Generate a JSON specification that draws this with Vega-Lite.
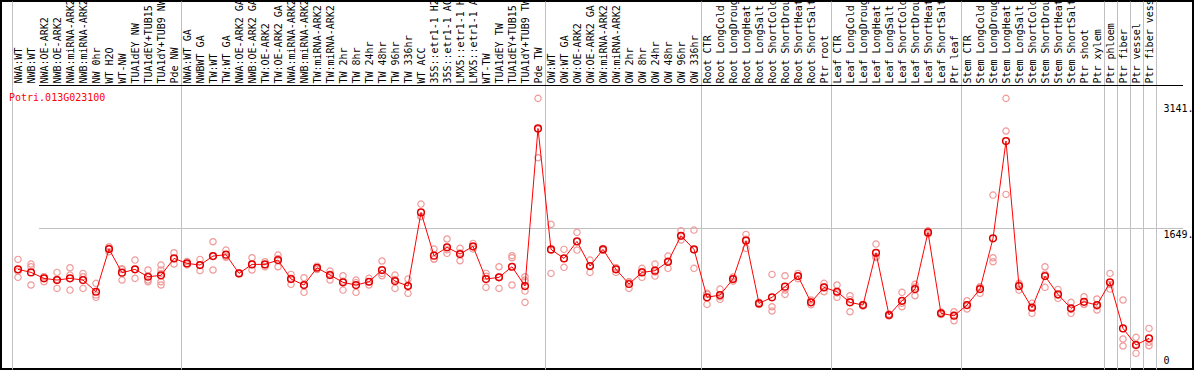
{
  "$schema": "https://vega.github.io/schema/vega-lite/v6.json",
  "width": 1192,
  "height": 368,
  "padding": {"left": 1, "top": 1, "right": 1, "bottom": 1},
  "autosize": {"type": "none"},
  "background": "white",
  "config": {"view": {"stroke": "black", "strokeWidth": 2}, "font": "DejaVu Sans Mono"},
  "title": {"text": "Potri.013G023100", "orient": "bottom", "anchor": "start", "frame": "group", "offset": -276, "dx": 8, "color": "#ff0000", "font": "DejaVu Sans Mono", "fontSize": 10, "fontWeight": "normal"},
  "datasets": {
    "means": [
      {"s": "NWA:WT", "v": 1162}, {"s": "NWB:WT", "v": 1126}, {"s": "NWA:OE-ARK2", "v": 1055}, {"s": "NWB:OE-ARK2", "v": 1035},
      {"s": "NWA:miRNA-ARK2", "v": 1055}, {"s": "NWB:miRNA-ARK2", "v": 1035}, {"s": "NW 0hr", "v": 896}, {"s": "WT H2O", "v": 1403},
      {"s": "WT-NW", "v": 1122}, {"s": "TUA1dEY NW", "v": 1162}, {"s": "TUA1dEY+TUB15 NW", "v": 1074}, {"s": "TUA1dY+TUB9 NW", "v": 1091},
      {"s": "Pde NW", "v": 1292}, {"s": "NWA:WT GA", "v": 1233}, {"s": "NWBWT GA", "v": 1213}, {"s": "TW:WT", "v": 1320},
      {"s": "TW:WT GA", "v": 1336}, {"s": "NWA:OE-ARK2 GA", "v": 1114}, {"s": "NWB:OE-ARK2 GA", "v": 1221}, {"s": "TW:OE-ARK2", "v": 1221},
      {"s": "TW:OE-ARK2 GA", "v": 1272}, {"s": "NWA:miRNA-ARK2 GA", "v": 1047}, {"s": "NWB:miRNA-ARK2 GA", "v": 976}, {"s": "TW:miRNA-ARK2", "v": 1181},
      {"s": "TW:miRNA-ARK2 GA", "v": 1094}, {"s": "TW 2hr", "v": 1008}, {"s": "TW 8hr", "v": 976}, {"s": "TW 24hr", "v": 1015},
      {"s": "TW 48hr", "v": 1154}, {"s": "TW 96hr", "v": 1023}, {"s": "TW 336hr", "v": 964}, {"s": "WT ACC", "v": 1838},
      {"s": "35S::etr1-1 H2O", "v": 1324}, {"s": "35S::etr1-1 ACC", "v": 1423}, {"s": "LMX5::etr1-1 H2O", "v": 1344}, {"s": "LMX5::etr1-1 ACC", "v": 1435},
      {"s": "WT-TW", "v": 1047}, {"s": "TUA1dEY TW", "v": 1067}, {"s": "TUA1dEY+TUB15 TW", "v": 1193}, {"s": "TUA1dY+TUB9 TW", "v": 964},
      {"s": "Pde TW", "v": 2835}, {"s": "OW:WT", "v": 1399}, {"s": "OW:WT GA", "v": 1292}, {"s": "OW:OE-ARK2", "v": 1494},
      {"s": "OW:OE-ARK2 GA", "v": 1201}, {"s": "OW:miRNA-ARK2", "v": 1399}, {"s": "OW:miRNA-ARK2 GA", "v": 1162}, {"s": "OW 2hr", "v": 988},
      {"s": "OW 8hr", "v": 1126}, {"s": "OW 24hr", "v": 1146}, {"s": "OW 48hr", "v": 1252}, {"s": "OW 96hr", "v": 1561},
      {"s": "OW 336hr", "v": 1399}, {"s": "Root CTR", "v": 830}, {"s": "Root LongCold", "v": 857}, {"s": "Root LongDrought", "v": 1047},
      {"s": "Root LongHeat", "v": 1502}, {"s": "Root LongSalt", "v": 758}, {"s": "Root ShortCold", "v": 830}, {"s": "Root ShortDrought", "v": 956},
      {"s": "Root ShortHeat", "v": 1082}, {"s": "Root ShortSalt", "v": 770}, {"s": "Ptr root", "v": 948}, {"s": "Leaf CTR", "v": 896},
      {"s": "Leaf LongCold", "v": 770}, {"s": "Leaf LongDrought", "v": 738}, {"s": "Leaf LongHeat", "v": 1359}, {"s": "Leaf LongSalt", "v": 620},
      {"s": "Leaf ShortCold", "v": 789}, {"s": "Leaf ShortDrought", "v": 928}, {"s": "Leaf ShortHeat", "v": 1601}, {"s": "Leaf ShortSalt", "v": 640},
      {"s": "Ptr leaf", "v": 611}, {"s": "Stem CTR", "v": 738}, {"s": "Stem LongCold", "v": 928}, {"s": "Stem LongDrought", "v": 1530},
      {"s": "Stem LongHeat", "v": 2685}, {"s": "Stem LongSalt", "v": 964}, {"s": "Stem ShortCold", "v": 706}, {"s": "Stem ShortDrought", "v": 1082},
      {"s": "Stem ShortHeat", "v": 865}, {"s": "Stem ShortSalt", "v": 699}, {"s": "Ptr shoot", "v": 777}, {"s": "Ptr xylem", "v": 738},
      {"s": "Ptr phloem", "v": 1008}, {"s": "Ptr fiber", "v": 461}, {"s": "Ptr vessel", "v": 264}, {"s": "Ptr fiber vessel", "v": 343}
    ],
    "reps": [
      {"s": "NWA:WT", "v": 1280}, {"s": "NWA:WT", "v": 1140}, {"s": "NWA:WT", "v": 1067},
      {"s": "NWB:WT", "v": 1225}, {"s": "NWB:WT", "v": 1193}, {"s": "NWB:WT", "v": 976},
      {"s": "NWA:OE-ARK2", "v": 1074}, {"s": "NWA:OE-ARK2", "v": 1075}, {"s": "NWA:OE-ARK2", "v": 1015},
      {"s": "NWB:OE-ARK2", "v": 1126}, {"s": "NWB:OE-ARK2", "v": 1043}, {"s": "NWB:OE-ARK2", "v": 936},
      {"s": "NWA:miRNA-ARK2", "v": 1181}, {"s": "NWA:miRNA-ARK2", "v": 1094}, {"s": "NWA:miRNA-ARK2", "v": 916},
      {"s": "NWB:miRNA-ARK2", "v": 1114}, {"s": "NWB:miRNA-ARK2", "v": 1074}, {"s": "NWB:miRNA-ARK2", "v": 936},
      {"s": "NW 0hr", "v": 996}, {"s": "NW 0hr", "v": 857}, {"s": "NW 0hr", "v": 830},
      {"s": "WT H2O", "v": 1430}, {"s": "WT H2O", "v": 1411}, {"s": "WT H2O", "v": 1371},
      {"s": "WT-NW", "v": 1160}, {"s": "WT-NW", "v": 1170}, {"s": "WT-NW", "v": 1035},
      {"s": "TUA1dEY NW", "v": 1272}, {"s": "TUA1dEY NW", "v": 1162}, {"s": "TUA1dEY NW", "v": 1055},
      {"s": "TUA1dEY+TUB15 NW", "v": 1154}, {"s": "TUA1dEY+TUB15 NW", "v": 1035}, {"s": "TUA1dEY+TUB15 NW", "v": 1015},
      {"s": "TUA1dY+TUB9 NW", "v": 1213}, {"s": "TUA1dY+TUB9 NW", "v": 1154}, {"s": "TUA1dY+TUB9 NW", "v": 1114}, {"s": "TUA1dY+TUB9 NW", "v": 1015}, {"s": "TUA1dY+TUB9 NW", "v": 976},
      {"s": "Pde NW", "v": 1359}, {"s": "Pde NW", "v": 1292}, {"s": "Pde NW", "v": 1225},
      {"s": "NWA:WT GA", "v": 1255}, {"s": "NWA:WT GA", "v": 1215}, {"s": "NWA:WT GA", "v": 1230},
      {"s": "NWBWT GA", "v": 1280}, {"s": "NWBWT GA", "v": 1213}, {"s": "NWBWT GA", "v": 1146},
      {"s": "TW:WT", "v": 1490}, {"s": "TW:WT", "v": 1316}, {"s": "TW:WT", "v": 1154},
      {"s": "TW:WT GA", "v": 1391}, {"s": "TW:WT GA", "v": 1312}, {"s": "TW:WT GA", "v": 1305},
      {"s": "NWA:OE-ARK2 GA", "v": 1120}, {"s": "NWA:OE-ARK2 GA", "v": 1110}, {"s": "NWA:OE-ARK2 GA", "v": 1112},
      {"s": "NWB:OE-ARK2 GA", "v": 1300}, {"s": "NWB:OE-ARK2 GA", "v": 1221}, {"s": "NWB:OE-ARK2 GA", "v": 1154},
      {"s": "TW:OE-ARK2", "v": 1252}, {"s": "TW:OE-ARK2", "v": 1193}, {"s": "TW:OE-ARK2", "v": 1218},
      {"s": "TW:OE-ARK2 GA", "v": 1332}, {"s": "TW:OE-ARK2 GA", "v": 1290}, {"s": "TW:OE-ARK2 GA", "v": 1193},
      {"s": "NWA:miRNA-ARK2 GA", "v": 1102}, {"s": "NWA:miRNA-ARK2 GA", "v": 1055}, {"s": "NWA:miRNA-ARK2 GA", "v": 984},
      {"s": "NWB:miRNA-ARK2 GA", "v": 1063}, {"s": "NWB:miRNA-ARK2 GA", "v": 976}, {"s": "NWB:miRNA-ARK2 GA", "v": 889},
      {"s": "TW:miRNA-ARK2", "v": 1200}, {"s": "TW:miRNA-ARK2", "v": 1181}, {"s": "TW:miRNA-ARK2", "v": 1160},
      {"s": "TW:miRNA-ARK2 GA", "v": 1142}, {"s": "TW:miRNA-ARK2 GA", "v": 1105}, {"s": "TW:miRNA-ARK2 GA", "v": 1035},
      {"s": "TW 2hr", "v": 1086}, {"s": "TW 2hr", "v": 1022}, {"s": "TW 2hr", "v": 916},
      {"s": "TW 8hr", "v": 1035}, {"s": "TW 8hr", "v": 1004}, {"s": "TW 8hr", "v": 889},
      {"s": "TW 24hr", "v": 1055}, {"s": "TW 24hr", "v": 1015}, {"s": "TW 24hr", "v": 976},
      {"s": "TW 48hr", "v": 1261}, {"s": "TW 48hr", "v": 1115}, {"s": "TW 48hr", "v": 1086},
      {"s": "TW 96hr", "v": 1094}, {"s": "TW 96hr", "v": 1040}, {"s": "TW 96hr", "v": 936},
      {"s": "TW 336hr", "v": 1047}, {"s": "TW 336hr", "v": 968}, {"s": "TW 336hr", "v": 877},
      {"s": "WT ACC", "v": 1937}, {"s": "WT ACC", "v": 1790}, {"s": "WT ACC", "v": 1787},
      {"s": "35S::etr1-1 H2O", "v": 1403}, {"s": "35S::etr1-1 H2O", "v": 1284}, {"s": "35S::etr1-1 H2O", "v": 1285},
      {"s": "35S::etr1-1 ACC", "v": 1522}, {"s": "35S::etr1-1 ACC", "v": 1395}, {"s": "35S::etr1-1 ACC", "v": 1352},
      {"s": "LMX5::etr1-1 H2O", "v": 1411}, {"s": "LMX5::etr1-1 H2O", "v": 1357}, {"s": "LMX5::etr1-1 H2O", "v": 1264},
      {"s": "LMX5::etr1-1 ACC", "v": 1470}, {"s": "LMX5::etr1-1 ACC", "v": 1430}, {"s": "LMX5::etr1-1 ACC", "v": 1405},
      {"s": "WT-TW", "v": 1114}, {"s": "WT-TW", "v": 1080}, {"s": "WT-TW", "v": 948},
      {"s": "TUA1dEY TW", "v": 1193}, {"s": "TUA1dEY TW", "v": 1072}, {"s": "TUA1dEY TW", "v": 936},
      {"s": "TUA1dEY+TUB15 TW", "v": 1324}, {"s": "TUA1dEY+TUB15 TW", "v": 1300}, {"s": "TUA1dEY+TUB15 TW", "v": 976},
      {"s": "TUA1dY+TUB9 TW", "v": 1074}, {"s": "TUA1dY+TUB9 TW", "v": 1035}, {"s": "TUA1dY+TUB9 TW", "v": 1015}, {"s": "TUA1dY+TUB9 TW", "v": 904}, {"s": "TUA1dY+TUB9 TW", "v": 770},
      {"s": "Pde TW", "v": 3192}, {"s": "Pde TW", "v": 2826}, {"s": "Pde TW", "v": 2487},
      {"s": "OW:WT", "v": 1696}, {"s": "OW:WT", "v": 1387}, {"s": "OW:WT", "v": 1114},
      {"s": "OW:WT GA", "v": 1399}, {"s": "OW:WT GA", "v": 1292}, {"s": "OW:WT GA", "v": 1186},
      {"s": "OW:OE-ARK2", "v": 1601}, {"s": "OW:OE-ARK2", "v": 1494}, {"s": "OW:OE-ARK2", "v": 1391},
      {"s": "OW:OE-ARK2 GA", "v": 1272}, {"s": "OW:OE-ARK2 GA", "v": 1205}, {"s": "OW:OE-ARK2 GA", "v": 1126},
      {"s": "OW:miRNA-ARK2", "v": 1410}, {"s": "OW:miRNA-ARK2", "v": 1399}, {"s": "OW:miRNA-ARK2", "v": 1388},
      {"s": "OW:miRNA-ARK2 GA", "v": 1181}, {"s": "OW:miRNA-ARK2 GA", "v": 1180}, {"s": "OW:miRNA-ARK2 GA", "v": 1126},
      {"s": "OW 2hr", "v": 1015}, {"s": "OW 2hr", "v": 1012}, {"s": "OW 2hr", "v": 936},
      {"s": "OW 8hr", "v": 1174}, {"s": "OW 8hr", "v": 1137}, {"s": "OW 8hr", "v": 1067},
      {"s": "OW 24hr", "v": 1225}, {"s": "OW 24hr", "v": 1131}, {"s": "OW 24hr", "v": 1082},
      {"s": "OW 48hr", "v": 1320}, {"s": "OW 48hr", "v": 1262}, {"s": "OW 48hr", "v": 1174},
      {"s": "OW 96hr", "v": 1620}, {"s": "OW 96hr", "v": 1553}, {"s": "OW 96hr", "v": 1510},
      {"s": "OW 336hr", "v": 1628}, {"s": "OW 336hr", "v": 1395}, {"s": "OW 336hr", "v": 1174},
      {"s": "Root CTR", "v": 877}, {"s": "Root CTR", "v": 867}, {"s": "Root CTR", "v": 746},
      {"s": "Root LongCold", "v": 928}, {"s": "Root LongCold", "v": 837}, {"s": "Root LongCold", "v": 806},
      {"s": "Root LongDrought", "v": 1070}, {"s": "Root LongDrought", "v": 1047}, {"s": "Root LongDrought", "v": 1022},
      {"s": "Root LongHeat", "v": 1577}, {"s": "Root LongHeat", "v": 1518}, {"s": "Root LongHeat", "v": 1411},
      {"s": "Root LongSalt", "v": 770}, {"s": "Root LongSalt", "v": 758}, {"s": "Root LongSalt", "v": 745},
      {"s": "Root ShortCold", "v": 1102}, {"s": "Root ShortCold", "v": 718}, {"s": "Root ShortCold", "v": 667},
      {"s": "Root ShortDrought", "v": 1086}, {"s": "Root ShortDrought", "v": 917}, {"s": "Root ShortDrought", "v": 865},
      {"s": "Root ShortHeat", "v": 1114}, {"s": "Root ShortHeat", "v": 1082}, {"s": "Root ShortHeat", "v": 1050},
      {"s": "Root ShortSalt", "v": 798}, {"s": "Root ShortSalt", "v": 770}, {"s": "Root ShortSalt", "v": 742},
      {"s": "Ptr root", "v": 996}, {"s": "Ptr root", "v": 952}, {"s": "Ptr root", "v": 896},
      {"s": "Leaf CTR", "v": 976}, {"s": "Leaf CTR", "v": 882}, {"s": "Leaf CTR", "v": 830},
      {"s": "Leaf LongCold", "v": 849}, {"s": "Leaf LongCold", "v": 802}, {"s": "Leaf LongCold", "v": 659},
      {"s": "Leaf LongDrought", "v": 745}, {"s": "Leaf LongDrought", "v": 738}, {"s": "Leaf LongDrought", "v": 725},
      {"s": "Leaf LongHeat", "v": 1462}, {"s": "Leaf LongHeat", "v": 1303}, {"s": "Leaf LongHeat", "v": 1312},
      {"s": "Leaf LongSalt", "v": 632}, {"s": "Leaf LongSalt", "v": 620}, {"s": "Leaf LongSalt", "v": 608},
      {"s": "Leaf ShortCold", "v": 889}, {"s": "Leaf ShortCold", "v": 760}, {"s": "Leaf ShortCold", "v": 718},
      {"s": "Leaf ShortDrought", "v": 984}, {"s": "Leaf ShortDrought", "v": 951}, {"s": "Leaf ShortDrought", "v": 849},
      {"s": "Leaf ShortHeat", "v": 1620}, {"s": "Leaf ShortHeat", "v": 1601}, {"s": "Leaf ShortHeat", "v": 1582},
      {"s": "Leaf ShortSalt", "v": 655}, {"s": "Leaf ShortSalt", "v": 640}, {"s": "Leaf ShortSalt", "v": 625},
      {"s": "Ptr leaf", "v": 659}, {"s": "Ptr leaf", "v": 622}, {"s": "Ptr leaf", "v": 552},
      {"s": "Stem CTR", "v": 789}, {"s": "Stem CTR", "v": 734}, {"s": "Stem CTR", "v": 691},
      {"s": "Stem LongCold", "v": 956}, {"s": "Stem LongCold", "v": 951}, {"s": "Stem LongCold", "v": 877},
      {"s": "Stem LongDrought", "v": 2044}, {"s": "Stem LongDrought", "v": 1300}, {"s": "Stem LongDrought", "v": 1252},
      {"s": "Stem LongHeat", "v": 3192}, {"s": "Stem LongHeat", "v": 2804}, {"s": "Stem LongHeat", "v": 2052},
      {"s": "Stem LongSalt", "v": 996}, {"s": "Stem LongSalt", "v": 980}, {"s": "Stem LongSalt", "v": 916},
      {"s": "Stem ShortCold", "v": 758}, {"s": "Stem ShortCold", "v": 720}, {"s": "Stem ShortCold", "v": 640},
      {"s": "Stem ShortDrought", "v": 1193}, {"s": "Stem ShortDrought", "v": 1105}, {"s": "Stem ShortDrought", "v": 948},
      {"s": "Stem ShortHeat", "v": 924}, {"s": "Stem ShortHeat", "v": 853}, {"s": "Stem ShortHeat", "v": 818},
      {"s": "Stem ShortSalt", "v": 770}, {"s": "Stem ShortSalt", "v": 687}, {"s": "Stem ShortSalt", "v": 640},
      {"s": "Ptr shoot", "v": 837}, {"s": "Ptr shoot", "v": 748}, {"s": "Ptr shoot", "v": 746},
      {"s": "Ptr xylem", "v": 810}, {"s": "Ptr xylem", "v": 725}, {"s": "Ptr xylem", "v": 679},
      {"s": "Ptr phloem", "v": 1114}, {"s": "Ptr phloem", "v": 982}, {"s": "Ptr phloem", "v": 928},
      {"s": "Ptr fiber", "v": 798}, {"s": "Ptr fiber", "v": 335}, {"s": "Ptr fiber", "v": 252},
      {"s": "Ptr vessel", "v": 355}, {"s": "Ptr vessel", "v": 272}, {"s": "Ptr vessel", "v": 165},
      {"s": "Ptr fiber vessel", "v": 461}, {"s": "Ptr fiber vessel", "v": 296}, {"s": "Ptr fiber vessel", "v": 255}
    ]
  },
  "encoding": {
    "x": {
      "field": "s",
      "type": "nominal",
      "scale": {
        "type": "band",
        "domain": ["NWA:WT", "NWB:WT", "NWA:OE-ARK2", "NWB:OE-ARK2", "NWA:miRNA-ARK2", "NWB:miRNA-ARK2", "NW 0hr", "WT H2O", "WT-NW", "TUA1dEY NW", "TUA1dEY+TUB15 NW", "TUA1dY+TUB9 NW", "Pde NW",
          "NWA:WT GA", "NWBWT GA", "TW:WT", "TW:WT GA", "NWA:OE-ARK2 GA", "NWB:OE-ARK2 GA", "TW:OE-ARK2", "TW:OE-ARK2 GA", "NWA:miRNA-ARK2 GA", "NWB:miRNA-ARK2 GA", "TW:miRNA-ARK2", "TW:miRNA-ARK2 GA", "TW 2hr", "TW 8hr", "TW 24hr", "TW 48hr", "TW 96hr", "TW 336hr", "WT ACC", "35S::etr1-1 H2O", "35S::etr1-1 ACC", "LMX5::etr1-1 H2O", "LMX5::etr1-1 ACC", "WT-TW", "TUA1dEY TW", "TUA1dEY+TUB15 TW", "TUA1dY+TUB9 TW", "Pde TW",
          "OW:WT", "OW:WT GA", "OW:OE-ARK2", "OW:OE-ARK2 GA", "OW:miRNA-ARK2", "OW:miRNA-ARK2 GA", "OW 2hr", "OW 8hr", "OW 24hr", "OW 48hr", "OW 96hr", "OW 336hr",
          "Root CTR", "Root LongCold", "Root LongDrought", "Root LongHeat", "Root LongSalt", "Root ShortCold", "Root ShortDrought", "Root ShortHeat", "Root ShortSalt", "Ptr root",
          "Leaf CTR", "Leaf LongCold", "Leaf LongDrought", "Leaf LongHeat", "Leaf LongSalt", "Leaf ShortCold", "Leaf ShortDrought", "Leaf ShortHeat", "Leaf ShortSalt", "Ptr leaf",
          "Stem CTR", "Stem LongCold", "Stem LongDrought", "Stem LongHeat", "Stem LongSalt", "Stem ShortCold", "Stem ShortDrought", "Stem ShortHeat", "Stem ShortSalt", "Ptr shoot", "Ptr xylem",
          "Ptr phloem", "Ptr fiber", "Ptr vessel", "Ptr fiber vessel"],
        "range": [10.5, 1154.5],
        "paddingInner": 0,
        "paddingOuter": 0
      },
      "axis": {
        "orient": "top",
        "offset": -84,
        "title": null,
        "ticks": false,
        "domain": false,
        "labelAngle": -90,
        "labelAlign": "left",
        "labelBaseline": "middle",
        "labelPadding": 2,
        "labelFont": "DejaVu Sans Mono",
        "labelFontSize": 10,
        "labelColor": "black",
        "labelExpr": "substring(datum.label, 0, 14)",
        "labelOverlap": false,
        "labelLimit": 300,
        "grid": true,
        "tickBand": "extent",
        "gridColor": "#c0c0c0",
        "gridWidth": 1,
        "gridOpacity": {"condition": {"test": "datum.index < 0 || indexof(['Pde NW','Pde TW','OW 336hr','Ptr root','Ptr leaf','Ptr xylem','Ptr phloem','Ptr fiber','Ptr vessel','Ptr fiber vessel'], datum.value) >= 0", "value": 1}, "value": 0}
      }
    },
    "y": {
      "field": "v",
      "type": "quantitative",
      "scale": {"domain": [-21, 4348], "nice": false, "zero": false},
      "axis": {
        "orient": "right",
        "offset": -30,
        "title": null,
        "ticks": false,
        "domain": false,
        "values": [0, 1649, 3141, 3351],
        "labelExpr": "datum.value == 0 ? '0' : datum.value == 3351 ? '' : datum.value + '.'",
        "labelAlign": "left",
        "labelPadding": 0,
        "labelBaseline": {"condition": {"test": "datum.value == 0", "value": "bottom"}, "value": "top"},
        "labelOffset": {"condition": {"test": "datum.value == 0", "value": -2}, "value": 1},
        "labelFont": "DejaVu Sans Mono",
        "labelFontSize": 10,
        "labelColor": "black",
        "labelFlush": false,
        "labelOverlap": false,
        "grid": true,
        "gridColor": {"condition": {"test": "datum.value == 3351", "value": "black"}, "value": "#c0c0c0"},
        "gridWidth": 1,
        "gridOpacity": {"condition": {"test": "datum.value == 1649 || datum.value == 3351", "value": 1}, "value": 0}
      }
    }
  },
  "layer": [
    {
      "data": {"name": "reps"},
      "mark": {"type": "point", "shape": "circle", "filled": false, "color": "#f09a9a", "size": 40, "strokeWidth": 1.2, "opacity": 1}
    },
    {
      "data": {"name": "means"},
      "mark": {"type": "line", "color": "#ff0000", "strokeWidth": 1}
    },
    {
      "data": {"name": "means"},
      "mark": {"type": "point", "shape": "circle", "filled": false, "color": "#e00000", "size": 45, "strokeWidth": 1.5, "opacity": 1}
    }
  ]
}
